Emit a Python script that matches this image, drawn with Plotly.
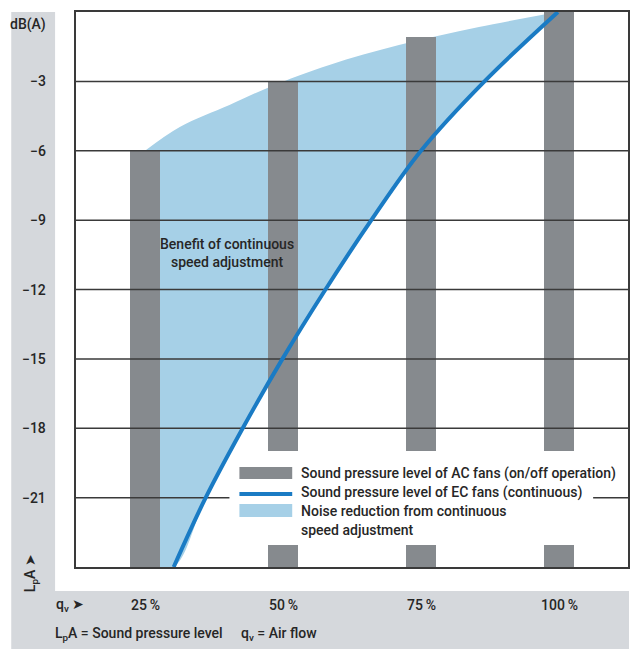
import plotly.graph_objects as go

# ---- data -------------------------------------------------------------
flow_pct = [25, 50, 75, 100]                 # air flow q_v (%)
ac_level = [-6, -3, -1.1, 0]                 # AC fans, on/off operation, dB(A)

# upper edge of the noise-reduction band (AC envelope)
env_flow = [25, 31.3, 40.3, 47.6, 58.4, 71, 85.5, 99.8]
env_level = [-6, -4.97, -4.02, -3.24, -2.29, -1.43, -0.65, 0]

# EC fans, continuous speed adjustment
ec_flow = [30.2, 36.0, 42.7, 49.9, 57.7, 66.0, 75.0, 86.5, 99.8]
ec_level = [-24, -21, -18, -15, -12, -9, -6, -3, 0]

grid_levels = [-3, -6, -9, -12, -15, -18, -21]
grid_labels = ["\u22123", "\u22126", "\u22129", "\u221212", "\u221215", "\u221218", "\u221221"]
flow_labels = ["25\u2009%", "50\u2009%", "75\u2009%", "100\u2009%"]

# ---- styling -----------------------------------------------------------
W, H = 631, 649
L, R, T, B = 76, 630, 12, 567           # plot area in pixels
X_RANGE = [12.5, 112.5]
Y_RANGE = [-24, 0]

BAR_GRAY = "#868a8e"
EC_BLUE = "#1a7bc4"
FILL_BLUE = "#a6d0e7"
PANEL = "#d5d8dc"
TXT = "#262626"
LINE = "#3a3a3a"
FONT = "Roboto, Liberation Sans, sans-serif"


def px_x(px):
    return X_RANGE[0] + (px - L) * (X_RANGE[1] - X_RANGE[0]) / (R - L)


def px_y(py):
    return Y_RANGE[1] - (py - T) * (Y_RANGE[1] - Y_RANGE[0]) / (B - T)


def pp_x(px):
    return (px - L) / (R - L)


def pp_y(py):
    return (B - py) / (B - T)


fig = go.Figure()

# band between AC envelope and EC curve (bottom layer)
fig.add_trace(go.Scatter(x=env_flow, y=env_level, mode="lines",
                         line=dict(width=0, shape="spline", color=FILL_BLUE),
                         hoverinfo="skip", showlegend=False))
fig.add_trace(go.Scatter(x=[flow_pct[0]] + ec_flow, y=[Y_RANGE[0]] + ec_level,
                         mode="lines", fill="tonexty", fillcolor=FILL_BLUE,
                         line=dict(width=0, shape="spline", color=FILL_BLUE),
                         hoverinfo="skip", showlegend=False))

# AC bars
fig.add_trace(go.Bar(x=flow_pct, y=[v - Y_RANGE[0] for v in ac_level], base=Y_RANGE[0],
                     width=5.42, marker=dict(color=BAR_GRAY, line=dict(width=0)),
                     xaxis="x2", yaxis="y2", showlegend=False))

# horizontal grid lines
gx, gy = [], []
for lv in grid_levels:
    gx += [X_RANGE[0], X_RANGE[1], None]
    gy += [lv, lv, None]
fig.add_trace(go.Scatter(x=gx, y=gy, mode="lines", line=dict(color=LINE, width=1.5),
                         xaxis="x2", yaxis="y2", hoverinfo="skip", showlegend=False))

# white legend box
bx0, bx1, by0, by1 = px_x(230), px_x(595), px_y(451), px_y(545)
fig.add_trace(go.Scatter(x=[bx0, bx1, bx1, bx0, bx0], y=[by0, by0, by1, by1, by0],
                         mode="lines", fill="toself", fillcolor="white",
                         line=dict(width=0, color="white"),
                         xaxis="x2", yaxis="y2", hoverinfo="skip", showlegend=False))

# EC curve
fig.add_trace(go.Scatter(x=ec_flow, y=ec_level, mode="lines",
                         line=dict(color=EC_BLUE, width=4, shape="spline"),
                         xaxis="x2", yaxis="y2", showlegend=False))

axis_common = dict(range=X_RANGE, showgrid=False, zeroline=False, showticklabels=False,
                   ticks="", fixedrange=True)
fig.update_layout(
    width=W, height=H,
    margin=dict(l=L, r=W - R, t=T, b=H - B, pad=0),
    paper_bgcolor="white", plot_bgcolor="white",
    font=dict(family=FONT, color=TXT, size=14, weight=500),
    xaxis=dict(**axis_common),
    yaxis=dict(range=Y_RANGE, showgrid=False, zeroline=False, showticklabels=False,
               ticks="", fixedrange=True),
    xaxis2=dict(**axis_common, overlaying="x", showline=True, mirror=True,
                linecolor=LINE, linewidth=1.5),
    yaxis2=dict(range=Y_RANGE, overlaying="y", showgrid=False, zeroline=False,
                showticklabels=False, ticks="", fixedrange=True, showline=True,
                mirror=True, linecolor=LINE, linewidth=1.5),
    bargap=0,
)

shapes = [
    # grey panel along left and bottom
    dict(type="rect", xref="paper", yref="paper", x0=pp_x(11), x1=pp_x(55),
         y0=pp_y(591), y1=pp_y(12), fillcolor=PANEL, line=dict(width=0), layer="below"),
    dict(type="rect", xref="paper", yref="paper", x0=pp_x(11), x1=pp_x(631),
         y0=pp_y(649), y1=pp_y(591), fillcolor=PANEL, line=dict(width=0), layer="below"),
    # legend swatches
    dict(type="rect", xref="paper", yref="paper", x0=pp_x(240), x1=pp_x(293),
         y0=pp_y(479), y1=pp_y(467), fillcolor=BAR_GRAY, line=dict(width=0)),
    dict(type="line", xref="paper", yref="paper", x0=pp_x(240), x1=pp_x(293),
         y0=pp_y(494), y1=pp_y(494), line=dict(color=EC_BLUE, width=4)),
    dict(type="rect", xref="paper", yref="paper", x0=pp_x(240), x1=pp_x(293),
         y0=pp_y(517), y1=pp_y(504), fillcolor=FILL_BLUE, line=dict(width=0)),
]
fig.update_layout(shapes=shapes)

ann = []
# y-axis labels
for lv, lab in zip(grid_levels, grid_labels):
    ann.append(dict(x=pp_x(48), xref="paper", y=lv, yref="y", text=lab, showarrow=False,
                    xanchor="right", yanchor="middle"))
ann.append(dict(x=pp_x(48), xref="paper", y=pp_y(25), yref="paper", text="dB(A)",
                showarrow=False, xanchor="right", yanchor="middle"))
# x-axis labels
for fx, lab in zip(flow_pct, flow_labels):
    ann.append(dict(x=fx, xref="x", y=pp_y(605), yref="paper", text=lab, showarrow=False,
                    xanchor="center", yanchor="middle"))
ann.append(dict(x=pp_x(54), xref="paper", y=pp_y(605), yref="paper",
                text="q<sub>v</sub> \u27a4", showarrow=False, xanchor="left", yanchor="middle"))
ann.append(dict(x=pp_x(31), xref="paper", y=pp_y(573), yref="paper",
                text="L<sub>p</sub>A \u27a4", textangle=-90, showarrow=False,
                xanchor="center", yanchor="middle"))
ann.append(dict(x=pp_x(53), xref="paper", y=pp_y(634), yref="paper",
                text="L<sub>p</sub>A = Sound pressure level", showarrow=False,
                xanchor="left", yanchor="middle"))
ann.append(dict(x=pp_x(240), xref="paper", y=pp_y(634), yref="paper",
                text="q<sub>v</sub> = Air flow", showarrow=False,
                xanchor="left", yanchor="middle"))
# band label
ann.append(dict(x=pp_x(228), xref="paper", y=pp_y(253), yref="paper",
                text="Benefit of continuous<br>speed adjustment", showarrow=False,
                xanchor="center", yanchor="middle", align="center"))
# legend texts
legend_rows = [
    (473, "Sound pressure level of AC fans (on/off operation)"),
    (492, "Sound pressure level of EC fans (continuous)"),
    (511, "Noise reduction from continuous"),
    (530, "speed adjustment"),
]
for py, txt in legend_rows:
    ann.append(dict(x=pp_x(300), xref="paper", y=pp_y(py), yref="paper", text=txt,
                    showarrow=False, xanchor="left", yanchor="middle"))
fig.update_layout(annotations=ann)

fig.write_html("out.html")
